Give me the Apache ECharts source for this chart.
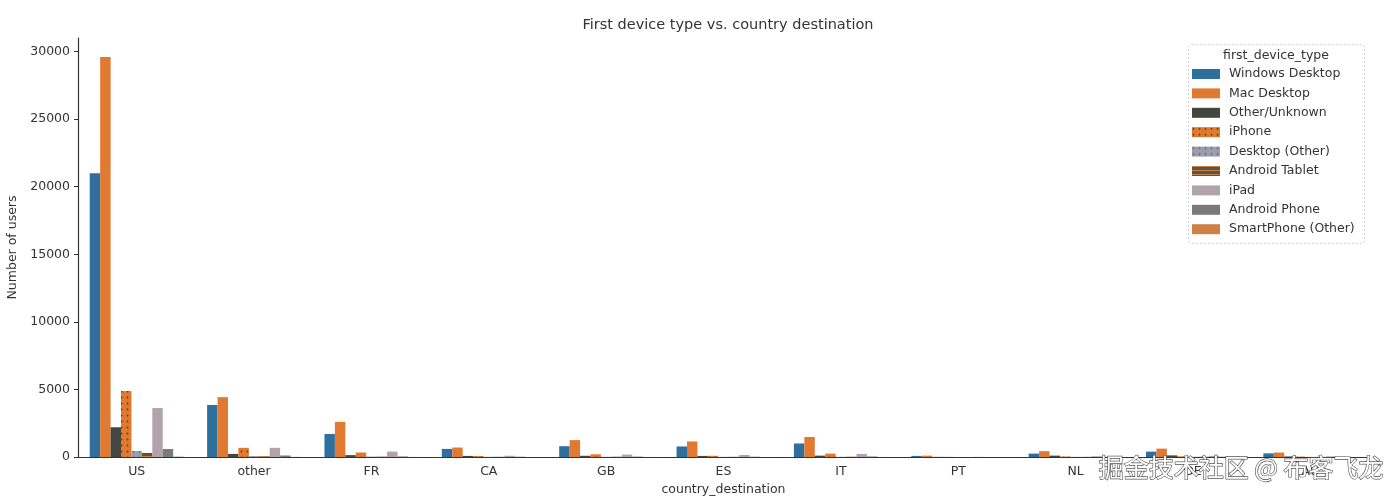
<!DOCTYPE html>
<html>
<head>
<meta charset="utf-8">
<script src="https://cdn.jsdelivr.net/npm/echarts@6/dist/echarts.min.js"></script>
<style>html,body{margin:0;padding:0;background:#fff;}#chart{width:1400px;height:502px;}</style>
</head>
<body>
<div id="chart"></div>
<script>
const categories = ['US', 'other', 'FR', 'CA', 'GB', 'ES', 'IT', 'PT', 'NL', 'DE', 'AU'];
const deviceTypes = ['Windows Desktop', 'Mac Desktop', 'Other/Unknown', 'iPhone', 'Desktop (Other)', 'Android Tablet', 'iPad', 'Android Phone', 'SmartPhone (Other)'];
const windowsDesktop  = [21000, 3850, 1700, 600, 800, 780, 1000, 80, 250, 400, 270];
const macDesktop      = [29600, 4430, 2600, 700, 1250, 1150, 1480, 100, 430, 620, 330];
const otherUnknown    = [2200, 230, 140, 80, 90, 80, 100, 10, 100, 120, 40];
const iPhone          = [4880, 680, 330, 70, 200, 90, 250, 10, 40, 50, 30];
const desktopOther    = [440, 70, 30, 15, 15, 10, 15, 2, 10, 15, 10];
const androidTablet   = [300, 60, 20, 10, 15, 10, 15, 2, 8, 10, 6];
const iPad            = [3620, 680, 400, 90, 180, 150, 230, 10, 60, 80, 50];
const androidPhone    = [590, 110, 40, 20, 30, 20, 40, 2, 10, 20, 10];
const smartPhoneOther = [30, 10, 5, 2, 3, 2, 3, 0, 1, 2, 1];
const yTicks = [0, 5000, 10000, 15000, 20000, 25000, 30000];

const seriesData = [windowsDesktop, macDesktop, otherUnknown, iPhone, desktopOther, androidTablet, iPad, androidPhone, smartPhoneOther];
const colors = ['#2f6f9e', '#e07a30', '#43473f', '#e07a30', '#9c9eab', '#5c5448', '#b0a3aa', '#7a7a7a', '#cf8046'];
const decals = [
  null, null, null,
  {symbol: 'circle', symbolSize: 0.6, dashArrayX: [[3, 3]], dashArrayY: [3, 3], color: 'rgba(40,30,20,0.7)'},
  {symbol: 'circle', symbolSize: 0.6, dashArrayX: [[3, 3]], dashArrayY: [3, 3], color: 'rgba(60,60,90,0.6)'},
  {symbol: 'rect', symbolSize: 1, dashArrayX: [[1, 0]], dashArrayY: [1, 3], color: 'rgba(220,140,70,0.8)'},
  null, null, null
];
const font = 'DejaVu Sans';

const chart = echarts.init(document.getElementById('chart'), null, {renderer: 'canvas'});
chart.setOption({
  backgroundColor: '#fff',
  animation: false,
  textStyle: {fontFamily: font},
  title: {
    text: 'First device type vs. country destination',
    left: 723, top: 13, textAlign: 'center',
    textStyle: {fontFamily: font, fontSize: 14.5, fontWeight: 'normal', color: '#333'}
  },
  grid: {left: 78, right: 31, top: 38, bottom: 45, containLabel: false, outerBoundsMode: 'none'},
  legend: {
    orient: 'vertical',
    left: 1192, top: 67,
    itemWidth: 28, itemHeight: 10, itemGap: 5.4,
    icon: 'rect',
    data: deviceTypes,
    textStyle: {fontFamily: font, fontSize: 12.5, color: '#333', lineHeight: 14, padding: [0, 0, 0, 4]},
    padding: 0
  },
  xAxis: {
    type: 'category',
    data: categories,
    name: 'country_destination',
    nameLocation: 'middle',
    nameGap: 26,
    nameTextStyle: {fontFamily: font, fontSize: 12.5, color: '#333'},
    axisLine: {lineStyle: {color: '#333', width: 1.2}},
    axisTick: {alignWithLabel: true, length: 4, lineStyle: {color: '#333'}},
    axisLabel: {fontFamily: font, fontSize: 12.5, color: '#333', margin: 8},
    splitLine: {show: false}
  },
  yAxis: {
    type: 'value',
    min: 0, max: 31000,
    name: 'Number of users',
    nameLocation: 'middle',
    nameGap: 58,
    nameRotate: 90,
    nameTextStyle: {fontFamily: font, fontSize: 12.5, color: '#333'},
    axisLine: {show: true, lineStyle: {color: '#333', width: 1.2}},
    axisTick: {show: true, length: 4, lineStyle: {color: '#333'}, customValues: yTicks},
    axisLabel: {fontFamily: font, fontSize: 12.5, color: '#333', margin: 8, customValues: yTicks,
      formatter: v => String(v)},
    splitLine: {show: false}
  },
  series: deviceTypes.map((name, i) => ({
    name: name,
    type: 'bar',
    data: seriesData[i],
    barGap: '0%',
    barCategoryGap: '20%',
    itemStyle: Object.assign({color: colors[i]}, decals[i] ? {decal: decals[i]} : {}),
    emphasis: {disabled: true}
  })),
  graphic: [
    {
      type: 'rect',
      shape: {x: 1188.5, y: 44.5, width: 176, height: 199, r: 3},
      style: {fill: 'rgba(255,255,255,0.8)', stroke: '#d0d0d0', lineWidth: 1, lineDash: [2, 2]},
      z: -1
    },
    {
      type: 'text',
      x: 1276, y: 49,
      style: {text: 'first_device_type', font: '12.5px "DejaVu Sans"', fill: '#333', align: 'center', verticalAlign: 'top'}
    },
    {
      type: 'text',
      left: 1098, top: 454,
      z: 100,
      style: {text: '掘金技术社区 @ 布客飞龙', font: '25px "Noto Sans CJK SC"', fill: '#ffffff', stroke: '#555', lineWidth: 1.3}
    }
  ]
});
</script>
</body>
</html>
